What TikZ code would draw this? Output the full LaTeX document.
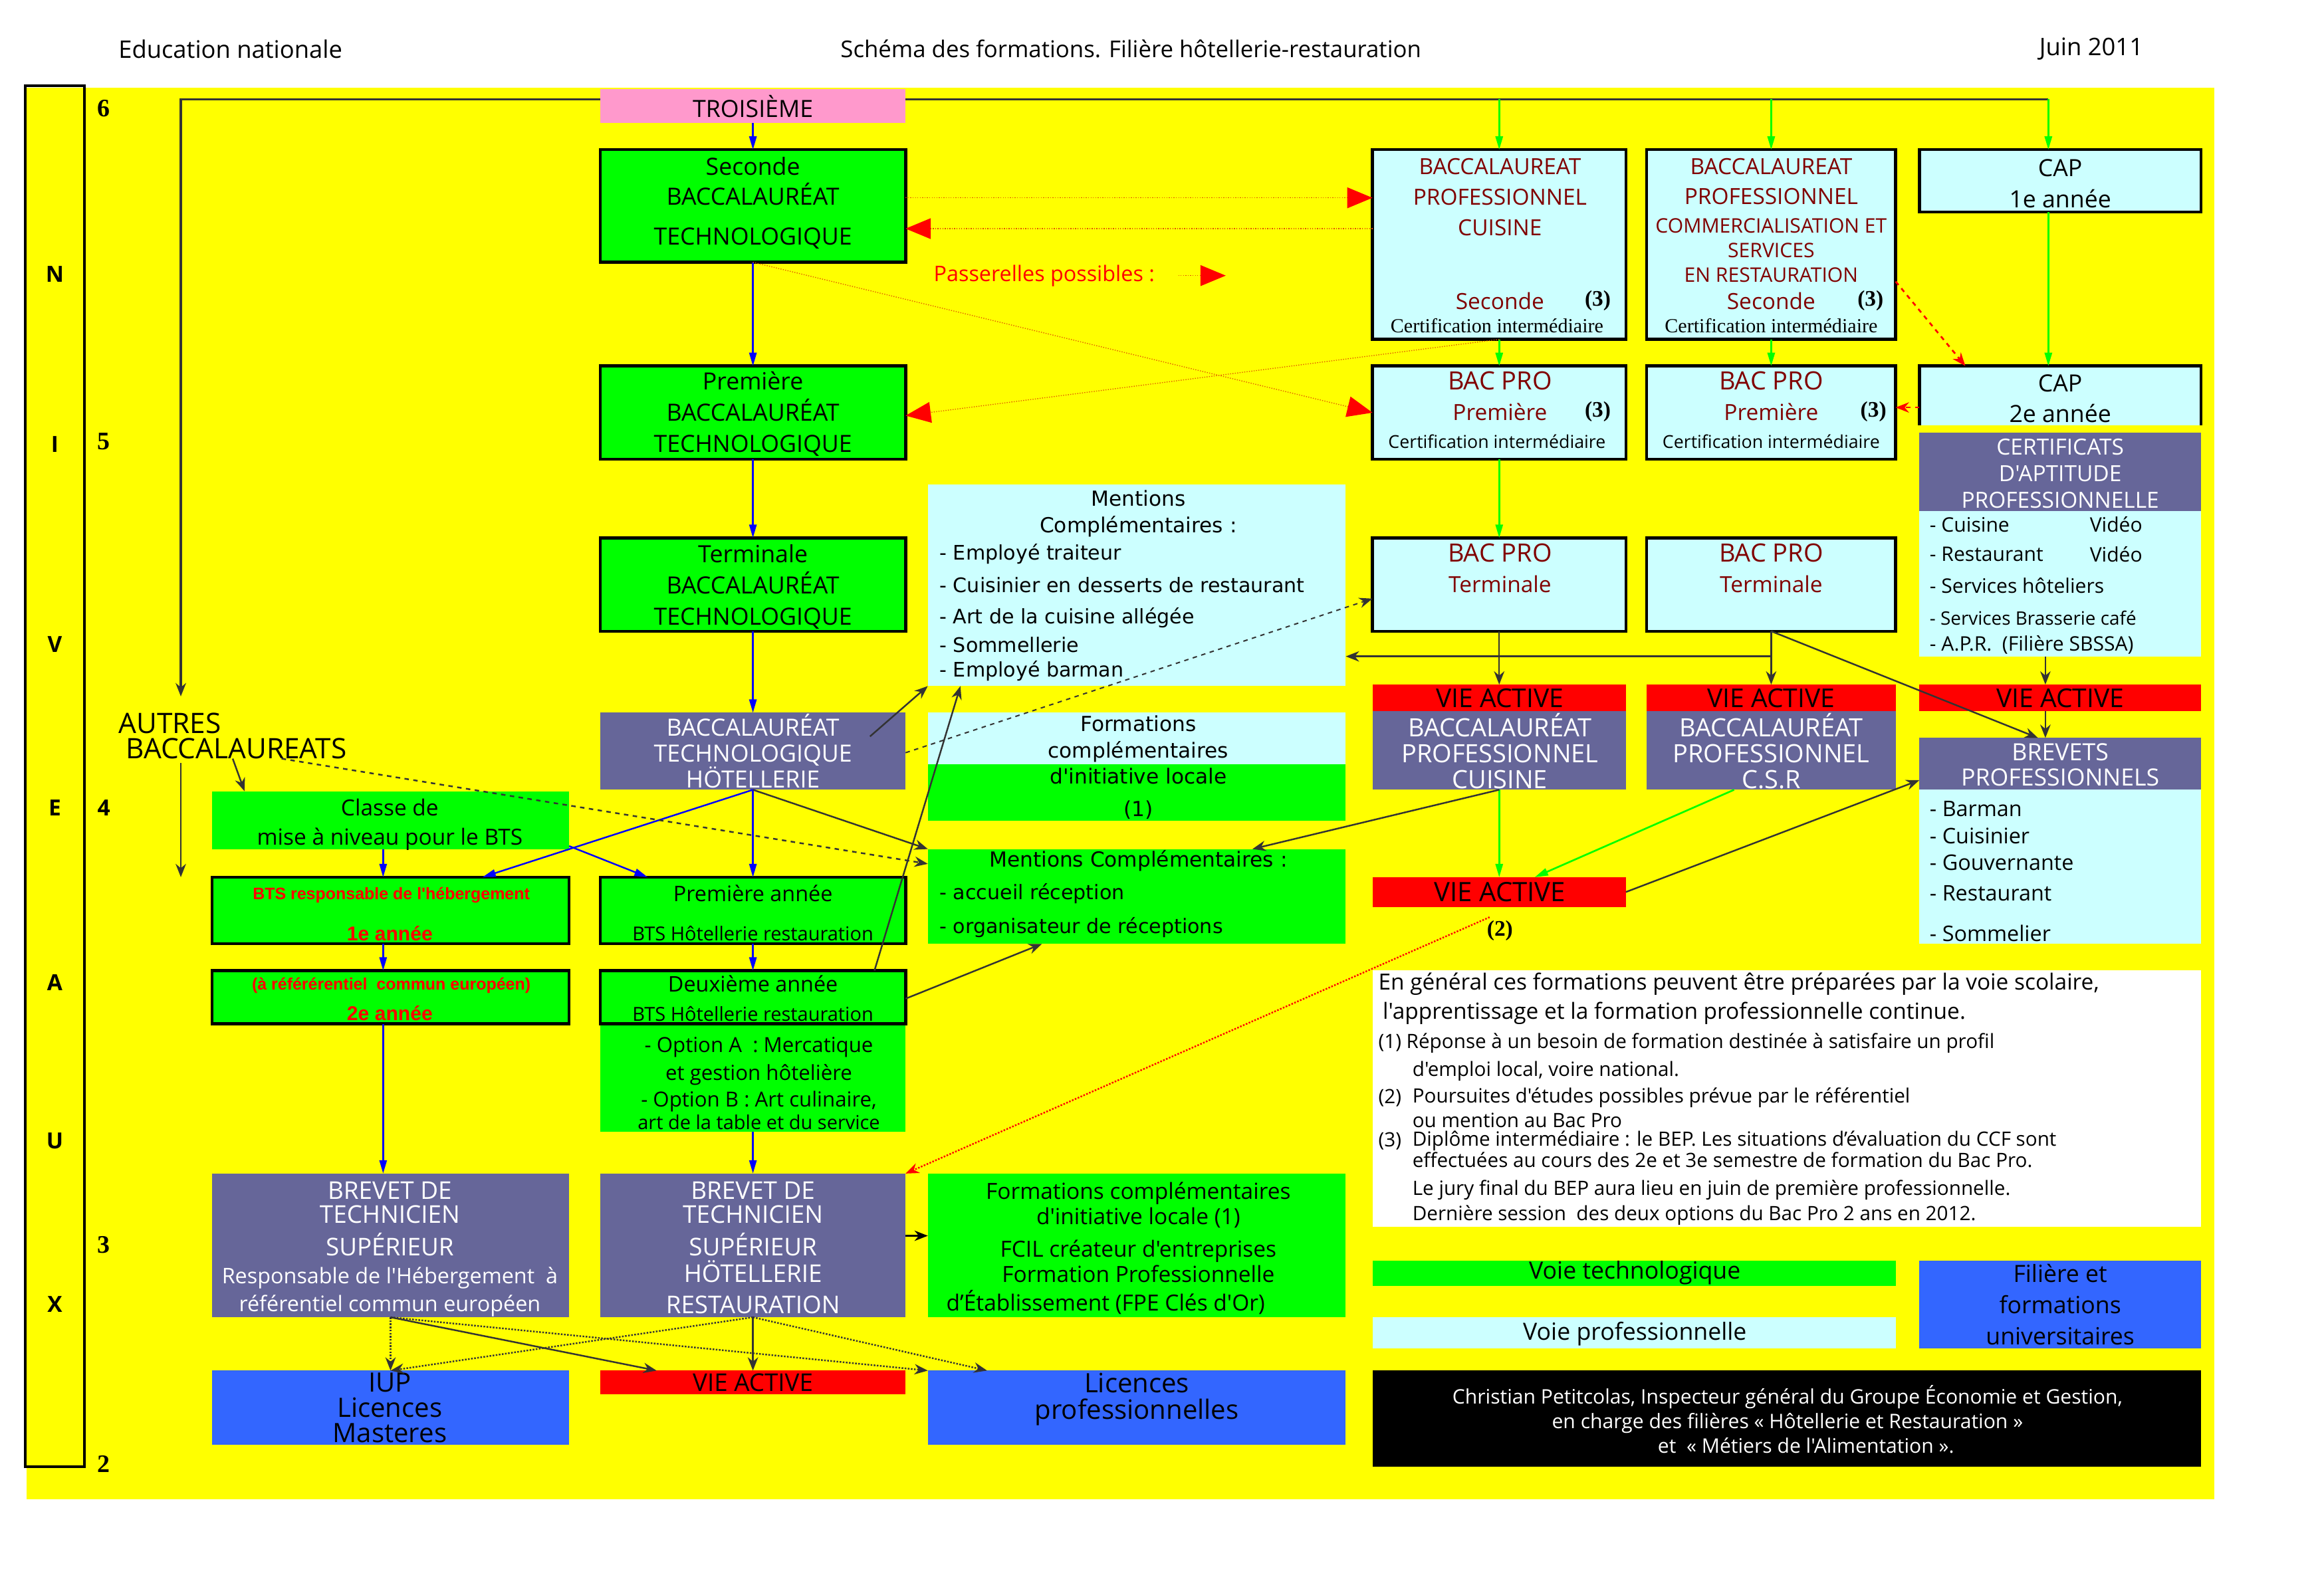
\documentclass[tikz,border=0pt]{standalone}
\usepackage{fontspec}
\setmainfont{Open Sans}[Ligatures=TeXOff]
\newfontfamily\dv{DejaVu Sans}[Ligatures=TeXOff]
\newfontfamily\tms{Liberation Serif}
\newfontfamily\ari{Liberation Sans}[Ligatures=TeXOff]
\usetikzlibrary{arrows.meta,calc}
\definecolor{yel}{HTML}{FFFF00}
\definecolor{pnk}{HTML}{FF99CC}
\definecolor{grn}{HTML}{00FF00}
\definecolor{cyn}{HTML}{CCFFFF}
\definecolor{slt}{HTML}{666699}
\definecolor{blu}{HTML}{3366FF}
\definecolor{rd}{HTML}{FF0000}
\definecolor{drd}{HTML}{800000}
\definecolor{dg}{HTML}{333333}
\definecolor{pas}{HTML}{E05000}
\newcommand\fsz[2]{\fontsize{#1}{#2}\selectfont}
\newcommand\bx[6]{\node[#6,minimum width={(#4)-(#2)},minimum height={(#5)-(#3)}] (#1) at ({((#2)+(#4))/2},{((#3)+(#5))/2}) {};}
\begin{document}
\begin{tikzpicture}[x=1pt,y=-1pt,
  every node/.style={inner sep=0pt,outer sep=0pt},
  edged/.style={draw=black,line width=2pt},
  grnfill/.style={fill=grn}, cynfill/.style={fill=cyn}, sltfill/.style={fill=slt},
  blufill/.style={fill=blu}, rdfill/.style={fill=rd}, pnkfill/.style={fill=pnk},
  wt/.style={text=white},
  dr/.style={text=drd},
  ga/.style={draw=dg,line width=1.1pt,-{Stealth[length=9pt,width=7pt]}},
  gdot/.style={draw=dg,line width=1.1pt,densely dotted,-{Stealth[length=9pt,width=7pt]}},
  gdash/.style={draw=dg,line width=1.1pt,dashed,-{Stealth[length=9pt,width=7pt]}},
  ba/.style={draw=blue,line width=1.1pt,-{Triangle[length=9pt,width=5pt]}},
  gra/.style={draw=grn,line width=1.2pt,-{Triangle[length=9pt,width=5pt]}},
  pa/.style={draw=pas,line width=0.6pt,densely dotted,-{Triangle[length=17pt,width=14pt,color=rd]}},
  rdash/.style={draw=rd,line width=1.2pt,dashed,-{Stealth[length=9pt,width=7pt]}},
  rdot/.style={draw=rd,line width=1.1pt,densely dotted,-{Stealth[length=9pt,width=7pt]}},
  dline/.style={draw=dg,line width=1.6pt}
]
\useasboundingbox (0,0) rectangle (1568,1068);
\fill[white] (0,0) rectangle (1568,1068);
\fill[yel] (18,59) rectangle (1494,1012);

% header
\node[anchor=west,font=\fsz{16.3}{18}] (h1) at (80,33) {Education nationale};
\node[font=\fsz{15.6}{18}] (h2) at (763,33) {Schéma des formations. Filière hôtellerie-restauration};
\node[font=\fsz{16.3}{18}] (h3) at (1411,33) {Juin 2011};

% niveaux column
\bx{niv}{17}{58}{57}{990}{draw=black,line width=1.8pt}
\foreach \l/\yy/\nm in {N/185/lN,I/300/lI,V/435/lV,E/545/lE,A/663/lA,U/770/lU,X/880/lX}
  \node[font=\fsz{15}{18}\bfseries] (\nm) at (37,\yy) {\l};
\node[font=\fsz{17}{18}\tms\bfseries] (n6) at (70,73) {6};
\node[font=\fsz{17}{18}\tms\bfseries] (n5) at (70,298) {5};
\node[font=\fsz{15}{18}\bfseries] (n4) at (70,545) {4};
\node[font=\fsz{17}{18}\tms\bfseries] (n3) at (70,840) {3};
\node[font=\fsz{17}{18}\tms\bfseries] (n2) at (70,988) {2};

% ---------- boxes ----------
\bx{t3}{405}{60}{611}{83}{pnkfill}
\bx{sec}{405}{101}{611}{177}{grnfill,edged}
\bx{pre}{405}{247}{611}{310}{grnfill,edged}
\bx{ter}{405}{363}{611}{426}{grnfill,edged}
\bx{bth}{405}{481}{611}{533}{sltfill}

\bx{bpc}{926}{101}{1097}{229}{cynfill,edged}
\bx{bpr}{1111}{101}{1279}{229}{cynfill,edged}
\bx{cap1}{1295}{101}{1485}{143}{cynfill,edged}
\bx{pc1}{926}{247}{1097}{310}{cynfill,edged}
\bx{pr1}{1111}{247}{1279}{310}{cynfill,edged}
\bx{cap2}{1295}{247}{1485}{287}{cynfill}
\draw[line width=2pt] (cap2.south west) -- (cap2.north west) -- (cap2.north east) -- (cap2.south east);
\bx{cert}{1295}{292}{1485}{345}{sltfill}
\bx{certl}{1295}{345}{1485}{443}{cynfill}
\bx{pct}{926}{363}{1097}{426}{cynfill,edged}
\bx{prt}{1111}{363}{1279}{426}{cynfill,edged}

\bx{va1}{926}{462}{1097}{480}{rdfill}
\bx{va2}{1111}{462}{1279}{480}{rdfill}
\bx{va3}{1295}{462}{1485}{480}{rdfill}
\bx{bpcs}{926}{480}{1097}{533}{sltfill}
\bx{bprs}{1111}{480}{1279}{533}{sltfill}
\bx{brv}{1295}{498}{1485}{533}{sltfill}
\bx{brvl}{1295}{533}{1485}{637}{cynfill}
\bx{vam}{926}{592}{1097}{612}{rdfill}

\bx{mc1}{626}{327}{908}{463}{cynfill}
\bx{fcla}{626}{481}{908}{516}{cynfill}
\bx{fclb}{626}{516}{908}{554}{grnfill}
\bx{mc2}{626}{573}{908}{637}{grnfill}

\bx{cls}{143}{534}{384}{573}{grnfill}
\bx{bts1}{143}{592}{384}{637}{grnfill,edged}
\bx{bts2}{143}{655}{384}{691}{grnfill,edged}
\bx{opt}{405}{689}{611}{764}{grnfill}
\bx{pa1}{405}{592}{611}{637}{grnfill,edged}
\bx{da1}{405}{655}{611}{691}{grnfill,edged}

\bx{btsl}{143}{792}{384}{889}{sltfill}
\bx{btsh}{405}{792}{611}{889}{sltfill}
\bx{fc2}{626}{792}{908}{889}{grnfill}
\bx{iup}{143}{925}{384}{975}{blufill}
\bx{vab}{405}{925}{611}{941}{rdfill}
\bx{lp}{626}{925}{908}{975}{blufill}

\bx{notes}{926}{655}{1485}{828}{fill=white}
\bx{vt}{926}{851}{1279}{868}{grnfill}
\bx{vp}{926}{889}{1279}{910}{cynfill}
\bx{fu}{1295}{851}{1485}{910}{blufill}
\bx{blk}{926}{925}{1485}{990}{fill=black}

% ---------- texts ----------
\node[font=\fsz{16}{18}] (t3t) at (508,72) {TROISIÈME};
\node[font=\fsz{16}{20},align=center] (sect) at (508,137) {Seconde\\BACCALAURÉAT\\[7pt]TECHNOLOGIQUE};
\node[font=\fsz{16}{21},align=center] (pret) at (508,279.5) {Première\\BACCALAURÉAT\\TECHNOLOGIQUE};
\node[font=\fsz{16}{21},align=center] (tert) at (508,396) {Terminale\\BACCALAURÉAT\\TECHNOLOGIQUE};
\node[font=\fsz{16}{17.5},align=center,wt] (btht) at (508,507) {BACCALAURÉAT\\TECHNOLOGIQUE\\HÖTELLERIE};

\node[font=\fsz{15}{20.5},align=center,dr] (bpct) at (1012,133) {BACCALAUREAT\\PROFESSIONNEL\\CUISINE};
\node[font=\fsz{15}{18},dr] (bpcs2) at (1012,203) {Seconde};
\node[font=\fsz{15}{18}\tms\bfseries] (bpc3) at (1078,203) {(3)};
\node[font=\fsz{13.5}{16}\tms] (bpcc) at (1010,220) {Certification intermédiaire};

\node[font=\fsz{15}{20},align=center,dr] (bprt) at (1195,122.5) {BACCALAUREAT\\PROFESSIONNEL};
\node[font=\fsz{13.5}{16.5},align=center,dr] (bprt2) at (1195,169) {COMMERCIALISATION ET\\SERVICES\\EN RESTAURATION};
\node[font=\fsz{15}{18},dr] (bprs2) at (1195,203) {Seconde};
\node[font=\fsz{15}{18}\tms\bfseries] (bpr3) at (1262,203) {(3)};
\node[font=\fsz{13.5}{16}\tms] (bprc) at (1195,220) {Certification intermédiaire};

\node[font=\fsz{16}{21},align=center] (cap1t) at (1390,124) {CAP\\1e année};
\node[font=\fsz{16}{21},align=center] (cap2t) at (1390,269) {CAP\\2e année};

\node[font=\fsz{17}{18},dr] (pc1a) at (1012,257) {BAC PRO};
\node[font=\fsz{15}{18},dr] (pc1b) at (1012,278) {Première};
\node[font=\fsz{15}{18}\tms\bfseries] (pc13) at (1078,278) {(3)};
\node[font=\fsz{12}{14}] (pc1c) at (1010,298) {Certification intermédiaire};
\node[font=\fsz{17}{18},dr] (pr1a) at (1195,257) {BAC PRO};
\node[font=\fsz{15}{18},dr] (pr1b) at (1195,278) {Première};
\node[font=\fsz{15}{18}\tms\bfseries] (pr13) at (1264,278) {(3)};
\node[font=\fsz{12}{14}] (pr1c) at (1195,298) {Certification intermédiaire};

\node[font=\fsz{17}{18},dr] (pcta) at (1012,373) {BAC PRO};
\node[font=\fsz{15}{18},dr] (pctb) at (1012,394) {Terminale};
\node[font=\fsz{17}{18},dr] (prta) at (1195,373) {BAC PRO};
\node[font=\fsz{15}{18},dr] (prtb) at (1195,394) {Terminale};

\node[font=\fsz{15}{18},align=center,wt] (certt) at (1390,319.5) {CERTIFICATS\\D'APTITUDE\\PROFESSIONNELLE};
\node[font=\fsz{13.5}{16},anchor=west] (cl1) at (1302,354) {- Cuisine};
\node[font=\fsz{13.5}{16},anchor=west] (cl1v) at (1410,354) {Vidéo};
\node[font=\fsz{13.5}{16},anchor=west] (cl2) at (1302,374) {- Restaurant};
\node[font=\fsz{13.5}{16},anchor=west] (cl2v) at (1410,374) {Vidéo};
\node[font=\fsz{13.5}{16},anchor=west] (cl3) at (1302,395) {- Services hôteliers};
\node[font=\fsz{12.5}{16},anchor=west] (cl4) at (1302,417) {- Services Brasserie café};
\node[font=\fsz{13.5}{16},anchor=west] (cl5) at (1302,435) {- A.P.R.\ \ (Filière SBSSA)};

\node[font=\fsz{17.5}{18}] (va1t) at (1012,471) {VIE ACTIVE};
\node[font=\fsz{17.5}{18}] (va2t) at (1195,471) {VIE ACTIVE};
\node[font=\fsz{17.5}{18}] (va3t) at (1390,471) {VIE ACTIVE};
\node[font=\fsz{17}{17.5},align=center,wt] (bpcst) at (1012,507) {BACCALAURÉAT\\PROFESSIONNEL\\CUISINE};
\node[font=\fsz{17}{17.5},align=center,wt] (bprst) at (1195,507) {BACCALAURÉAT\\PROFESSIONNEL\\C.S.R};
\node[font=\fsz{16}{17},align=center,wt] (brvt) at (1390,516) {BREVETS\\PROFESSIONNELS};
\node[font=\fsz{14.5}{16},anchor=west] (bl1) at (1302,546) {- Barman};
\node[font=\fsz{14.5}{16},anchor=west] (bl2) at (1302,564) {- Cuisinier};
\node[font=\fsz{14.5}{16},anchor=west] (bl3) at (1302,582) {- Gouvernante};
\node[font=\fsz{14.5}{16},anchor=west] (bl4) at (1302,603) {- Restaurant};
\node[font=\fsz{14.5}{16},anchor=west] (bl5) at (1302,630) {- Sommelier};
\node[font=\fsz{18}{18}] (vamt) at (1012,602) {VIE ACTIVE};
\node[font=\fsz{15}{18}\tms\bfseries] (n2b) at (1012,628) {(2)};

\node[font=\fsz{14}{18}\dv,align=center] (mc1t) at (768,346.5) {Mentions\\Complémentaires :};
\node[font=\fsz{13.5}{16}\dv,anchor=west] (m1) at (634,374) {- Employé traiteur};
\node[font=\fsz{13.5}{16}\dv,anchor=west] (m2) at (634,395) {- Cuisinier en desserts de restaurant};
\node[font=\fsz{13.5}{16}\dv,anchor=west] (m3) at (634,417) {- Art de la cuisine allégée};
\node[font=\fsz{13.5}{16}\dv,anchor=west] (m4) at (634,435) {- Sommellerie};
\node[font=\fsz{13.5}{16}\dv,anchor=west] (m5) at (634,453) {- Employé barman};
\node[font=\fsz{14}{18}\dv,align=center] (fclt) at (768,498.5) {Formations\\complémentaires};
\node[font=\fsz{14}{22}\dv,align=center] (fclt2) at (768,535.5) {d'initiative locale\\(1)};
\node[font=\fsz{14}{16}\dv] (mc2t) at (768,581) {Mentions Complémentaires :};
\node[font=\fsz{13.5}{16}\dv,anchor=west] (m6) at (634,603) {- accueil réception};
\node[font=\fsz{13.5}{16}\dv,anchor=west] (m7) at (634,626) {- organisateur de réceptions};

\node[font=\fsz{14.5}{16},text=red,anchor=west] (pasl) at (630,186) {Passerelles possibles :};
\coordinate (pl1) at (795,186);
\coordinate (pl2) at (827,186);

\node[font=\fsz{19}{18},anchor=west] (au1) at (80,488) {AUTRES};
\node[font=\fsz{19}{18},anchor=west] (au2) at (85,505) {BACCALAUREATS};
\node[font=\fsz{15}{20},align=center] (clst) at (263,556.5) {Classe de\\mise à niveau pour le BTS};
\node[font=\fsz{11.2}{12}\ari\bfseries,text=red] (bts1a) at (264,604) {BTS responsable de l'hébergement};
\node[font=\fsz{13.5}{14}\ari\bfseries,text=red] (bts1b) at (263,630) {1e année};
\node[font=\fsz{11.2}{12}\ari\bfseries,text=red] (bts2a) at (264,665) {(à référérentiel\ \ commun européen)};
\node[font=\fsz{13.5}{14}\ari\bfseries,text=red] (bts2b) at (263,684) {2e année};
\node[font=\fsz{14.5}{16}] (pa1a) at (508,603) {Première année};
\node[font=\fsz{13}{15}] (pa1b) at (508,630) {BTS Hôtellerie restauration};
\node[font=\fsz{14.5}{16}] (da1a) at (508,664) {Deuxième année};
\node[font=\fsz{13}{15}] (da1b) at (508,684) {BTS Hôtellerie restauration};
\node[font=\fsz{14}{19},align=center] (optt) at (512,731) {- Option A\ \ : Mercatique\\et gestion hôtelière\\[-1pt]- Option B : Art culinaire,\\[-4pt]{\fsz{13}{15}art de la table et du service}};

\node[font=\fsz{16.5}{16},align=center,wt] (btslt) at (263,822.5) {BREVET DE\\TECHNICIEN\\[6pt]SUPÉRIEUR};
\node[font=\fsz{14.5}{19},align=center,wt] (btslt2) at (263,872) {Responsable de l'Hébergement\ \ à\\référentiel commun européen};
\node[font=\fsz{16.5}{16},align=center,wt] (btsht) at (508,842) {BREVET DE\\TECHNICIEN\\[6pt]SUPÉRIEUR\\[2pt]HÖTELLERIE\\[5pt]RESTAURATION};
\node[font=\fsz{15}{17},align=center] (fc2t) at (768,831.5) {Formations complémentaires\\d'initiative locale (1)\\[5pt]FCIL créateur d'entreprises\\Formation Professionnelle};
\node[font=\fsz{15}{17}] (fc2t2) at (746,879) {d’Établissement (FPE Clés d'Or)};
\node[font=\fsz{18}{17},align=center] (iupt) at (263,950) {IUP\\Licences\\Masteres};
\node[font=\fsz{16.5}{16}] (vabt) at (508,933) {VIE ACTIVE};
\node[font=\fsz{18}{18},align=center] (lpt) at (767,944.5) {Licences\\professionnelles};

\node[font=\fsz{15}{16},anchor=west] (nt1) at (930,664) {En général ces formations peuvent être préparées par la voie scolaire,};
\node[font=\fsz{15}{16},anchor=west] (nt2) at (933,684) {l'apprentissage et la formation professionnelle continue.};
\node[font=\fsz{13.3}{14},anchor=west] (nt3) at (930,704) {(1) Réponse à un besoin de formation destinée à satisfaire un profil};
\node[font=\fsz{13.3}{14},anchor=west] (nt4) at (953,723) {d'emploi local, voire national.};
\node[font=\fsz{13.3}{14},anchor=west] (nt5a) at (930,741) {(2)};
\node[font=\fsz{13.3}{14},anchor=west] (nt5) at (953,741) {Poursuites d'études possibles prévue par le référentiel};
\node[font=\fsz{13.3}{14},anchor=west] (nt6) at (953,756) {ou mention au Bac Pro};
\node[font=\fsz{13.3}{14},anchor=west] (nt7a) at (930,770) {(3)};
\node[font=\fsz{13.3}{14},anchor=west] (nt7) at (953,770) {Diplôme intermédiaire : le BEP. Les situations d’évaluation du CCF sont};
\node[font=\fsz{13.3}{14},anchor=west] (nt8) at (953,783) {effectuées au cours des 2e et 3e semestre de formation du Bac Pro.};
\node[font=\fsz{13.3}{14},anchor=west] (nt9) at (953,803) {Le jury final du BEP aura lieu en juin de première professionnelle.};
\node[font=\fsz{13.3}{14},anchor=west] (nt10) at (953,820) {Dernière session\ \ des deux options du Bac Pro 2 ans en 2012.};

\node[font=\fsz{16}{18}] (vtt) at (1103,859) {Voie technologique};
\node[font=\fsz{16}{18}] (vpt) at (1103,900) {Voie professionnelle};
\node[font=\fsz{16}{21},align=center] (fut) at (1390,880.5) {Filière et\\formations\\universitaires};
\node[font=\fsz{13.5}{16.5},align=center,wt] (blkt) at (1206,958) {Christian Petitcolas, Inspecteur général du Groupe Économie et Gestion,\\en charge des filières « Hôtellerie et Restauration »\\\hspace{25pt}et\ \ « Métiers de l'Alimentation ».};

% ---------- connectors ----------
\coordinate (ab) at (122,470);
\coordinate (j3) at (1382,67);
\draw[dline,-{Stealth[length=9pt,width=7pt]}] ([yshift=4.5pt]t3.west) -| (ab);
\draw[dline] ([yshift=4.5pt]t3.east) -- (j3);
\draw[gra] (bpc.north |- j3) -- (bpc.north);
\draw[gra] (bpr.north |- j3) -- (bpr.north);
\draw[gra] (j3) -- ([xshift=-8pt]cap1.north);

% blue
\draw[ba] (t3.south) -- (sec.north);
\draw[ba] (sec.south) -- (pre.north);
\draw[ba] (pre.south) -- (ter.north);
\draw[ba] (ter.south) -- (bth.north);
\draw[ba] (bth.south) -- (pa1.north);
\draw[ba] (bth.south) -- ([xshift=62pt]bts1.north);
\draw[ba] ([yshift=2pt]cls.south east) -- ([xshift=-71pt]pa1.north);
\draw[ba] ([xshift=-5pt]cls.south) -- ([xshift=-5pt]bts1.north);
\draw[ba] ([xshift=-5pt]bts1.south) -- ([xshift=-5pt]bts2.north);
\draw[ba] ([xshift=-5pt]bts2.south) -- ([xshift=-5pt]btsl.north);
\draw[ba] (pa1.south) -- (da1.north);
\draw[ba] (opt.south) -- (btsh.north);

% green
\draw[gra] (bpc.south) -- (pc1.north);
\draw[gra] (bpr.south) -- (pr1.north);
\draw[gra] (pc1.south) -- (pct.north);
\draw[gra] ([xshift=-8pt]cap1.south) -- ([xshift=-8pt]cap2.north);
\draw[gra] (bpcs.south) -- (vam.north);
\draw[gra] ([xshift=-25pt]bprs.south) -- ([xshift=24pt]vam.north);

% passerelles
\draw[pa] ([yshift=5.5pt]sec.east) -- ([yshift=31.5pt]bpc.west);
\draw[pa] ([yshift=10.7pt]bpc.west) -- ([yshift=-15.3pt]sec.east);
\draw[pa] (sec.south) -- (pc1.west);
\draw[pa] (bpc.south) -- ([yshift=-2pt]pre.east);
\draw[pa] (pl1) -- (pl2);
\draw[rdash] ([yshift=-25pt]bpr.east) -- ([xshift=-64pt]cap2.north);
\draw[rdash] ([yshift=-8pt]cap2.west) -- (pr1.east |- 0,275);
\draw[rdot] ([xshift=-6.5pt,yshift=-7pt]vam.south) -- (btsh.north east);

% gray
\coordinate (ac1) at (122,515);
\coordinate (ac2) at (122,592);
\coordinate (ad) at (190,512);
\coordinate (ae) at (157,512);
\draw[ga] (ac1) -- (ac2);
\draw[ga] (ae) -- ([xshift=22pt]cls.north west);
\draw[gdash] (ad) -- ([yshift=22pt]mc2.west);
\draw[ga] (bth.south) -- (mc2.north west);
\draw[ga] ($(bth.east)+(-24,-10)$) -- (mc1.south west);
\draw[gdash,line width=0.9pt] ([yshift=-1pt]bth.east) -- ([yshift=-9.5pt]pct.west);
\draw[ga] ([xshift=82pt]da1.north) -- ([xshift=22pt]mc1.south west);
\draw[ga] ([yshift=-1pt]da1.east) -- ($(mc2.south west)+(77,0)$);
\draw[ga] (bpcs.south) -- ($(mc2.north west)+(219,0)$);
\draw[ga] (pct.south) -- (va1.north);
\draw[ga] (prt.south) -- (va2.north);
\coordinate (hj) at (1195,443);
\draw[ga] (hj) -- (mc1.east |- hj);
\draw[ga] (prt.south) -- ([xshift=-15pt]brv.north);
\draw[ga] ([xshift=-10pt]certl.south) -- ([xshift=-10pt]va3.north);
\draw[ga] ([xshift=-10pt]va3.south) -- ([xshift=-10pt]brv.north);
\draw[ga] (vam.east) -- ([yshift=-11pt]brv.west);
\draw[ga,draw=black] ([yshift=6.5pt]btsh.east) -- ([yshift=6.5pt]fc2.west);
\draw[ga] (btsh.south) -- (vab.north);
\draw[gdot] (btsh.south) -- (iup.north);
\draw[gdot] (btsh.south) -- ([xshift=-101pt]lp.north);
\draw[gdot] (btsl.south) -- (iup.north);
\draw[gdot] (btsl.south) -- (lp.north west);
\draw[ga] (btsl.south) -- ([xshift=-65pt]vab.north);
\end{tikzpicture}
\end{document}
